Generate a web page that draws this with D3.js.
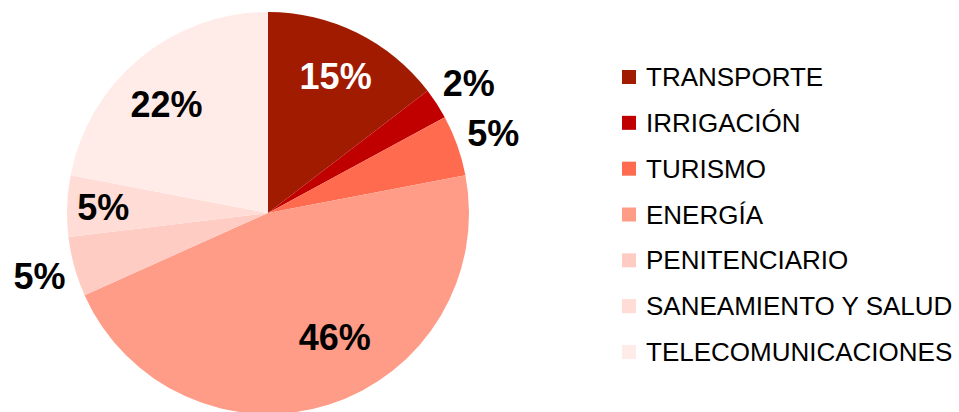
<!DOCTYPE html>
<html>
<head>
<meta charset="utf-8">
<script src="https://cdn.jsdelivr.net/npm/d3@7"></script>
<style>
  html, body { margin: 0; padding: 0; background: #ffffff; }
  svg { display: block; font-family: "Liberation Sans", Arial, sans-serif; }
</style>
</head>
<body>
<div id="chart"></div>
<script>
// categories and their share of the total (percent)
var categories = ["TRANSPORTE", "IRRIGACIÓN", "TURISMO", "ENERGÍA",
                  "PENITENCIARIO", "SANEAMIENTO Y SALUD", "TELECOMUNICACIONES"];
var values = [14.6, 2.5, 4.9, 46.3, 4.8, 4.9, 22.0];
var labels = ["15%", "2%", "5%", "46%", "5%", "5%", "22%"];
var colors = ["#a01b00", "#c00000", "#ff6b4f", "#ff9c88", "#ffccc3", "#ffdcd6", "#ffece8"];
var labelColors = ["#ffffff", "#000000", "#000000", "#000000", "#000000", "#000000", "#000000"];

window.onload = function() {
  drawChart();
};

function drawChart() {
  var width = 959, height = 412;
  var cx = 268, cy = 213, radius = 201;

  var svg = d3.select("#chart").append("svg")
    .attr("width", width)
    .attr("height", height);

  // pie layout, starting at 12 o'clock, keep data order
  var pie = d3.pie().sort(null).value(function(d) { return d; });
  var arcs = pie(values);

  var arc = d3.arc().innerRadius(0).outerRadius(radius);

  var g = svg.append("g").attr("transform", "translate(" + cx + "," + cy + ")");

  g.selectAll("path")
    .data(arcs)
    .enter()
    .append("path")
    .attr("d", arc)
    .style("fill", function(d, i) { return colors[i]; });

  // where each label sits, as a fraction of the radius (some outside the pie)
  var labelRadius = [0.76, 1.19, 1.19, 0.70, 1.18, 0.82, 0.74];
  var angleNudge = [0, 0, 0, -0.19, 0, 0, -0.06];
  var fontSize = 36;

  g.selectAll("text.pct")
    .data(arcs)
    .enter()
    .append("text")
    .attr("class", "pct")
    .attr("x", function(d, i) {
      var a = (d.startAngle + d.endAngle) / 2 + angleNudge[i];
      return Math.sin(a) * radius * labelRadius[i];
    })
    .attr("y", function(d, i) {
      var a = (d.startAngle + d.endAngle) / 2 + angleNudge[i];
      return -Math.cos(a) * radius * labelRadius[i] + fontSize * 0.36;
    })
    .attr("text-anchor", "middle")
    .style("font-size", fontSize + "px")
    .style("font-weight", "bold")
    .style("fill", function(d, i) { return labelColors[i]; })
    .text(function(d, i) { return labels[i]; });

  // legend
  var legendY = d3.scalePoint()
    .domain(categories)
    .range([86, 361]);

  var legend = svg.selectAll("g.legend")
    .data(categories)
    .enter()
    .append("g")
    .attr("class", "legend")
    .attr("transform", function(d) { return "translate(622," + legendY(d) + ")"; });

  legend.append("rect")
    .attr("x", 0)
    .attr("y", -16)
    .attr("width", 14)
    .attr("height", 14)
    .style("fill", function(d, i) { return colors[i]; });

  legend.append("text")
    .attr("x", 24)
    .attr("y", 0)
    .style("font-size", "26px")
    .style("fill", "#000000")
    .text(function(d) { return d; });
}
</script>
</body>
</html>
